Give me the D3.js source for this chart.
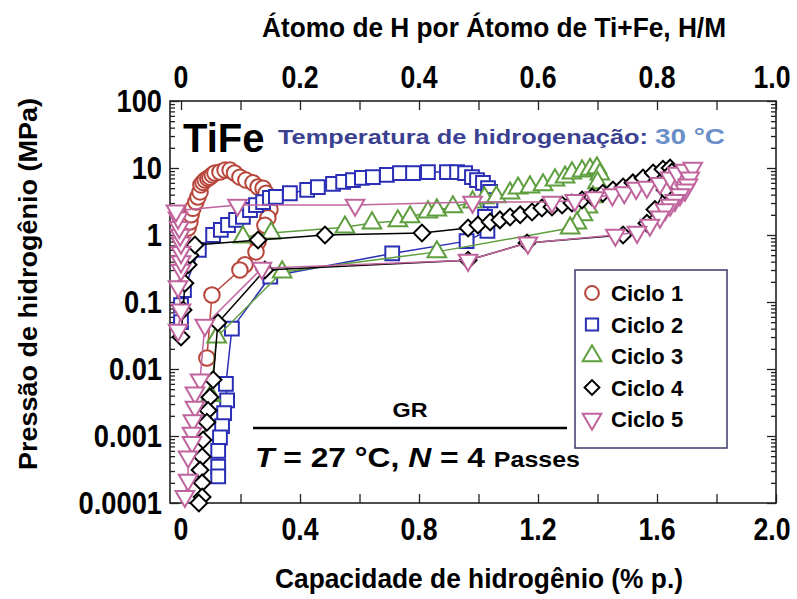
<!DOCTYPE html>
<html>
<head>
<meta charset="utf-8">
<script src="https://cdn.jsdelivr.net/npm/d3@7"></script>
<style>
body { margin: 0; background: #fff; }
svg { display: block; }
text { font-family: "Liberation Sans", Arial, sans-serif; font-weight: bold; }
</style>
</head>
<body>
<svg width="797" height="599"></svg>
<script>
// [capacidade % p., pressao MPa]
const ciclo1 = [[0.02,0.6],[0.024,1.27],[0.03,1.56],[0.034,2.0],[0.04,2.5],[0.05,3.1],[0.057,3.7],[0.064,4.4],[0.067,5.6],[0.074,6.1],[0.081,6.6],[0.09,7.0],[0.097,7.3],[0.105,7.9],[0.114,8.4],[0.131,8.7],[0.148,9.3],[0.165,9.3],[0.18,8.4],[0.198,7.3],[0.218,6.6],[0.242,6.0],[0.259,5.2],[0.276,5.0],[0.286,4.2],[0.292,3.1],[0.299,2.4],[0.292,1.8],[0.282,1.4],[0.259,0.79],[0.252,0.56],[0.215,0.36],[0.198,0.3],[0.104,0.127],[0.087,0.0146]];
const ciclo2 = [[0.0,0.05],[0.0,0.09],[0.01,0.15],[0.06,0.6],[0.108,1.0],[0.134,1.19],[0.158,1.41],[0.185,1.68],[0.208,1.86],[0.232,2.36],[0.252,2.8],[0.276,3.1],[0.299,3.57],[0.319,3.7],[0.366,4.2],[0.424,4.7],[0.46,5.2],[0.511,5.8],[0.545,6.2],[0.578,6.6],[0.608,7.1],[0.645,7.3],[0.692,7.9],[0.736,8.4],[0.78,8.4],[0.83,8.7],[0.894,8.7],[0.928,8.7],[0.955,8.4],[0.978,7.3],[0.995,6.6],[1.015,6.0],[1.032,5.0],[1.039,4.4],[1.04,3.3],[1.022,1.86],[1.03,1.15],[0.96,0.81],[0.71,0.53],[0.3,0.24],[0.171,0.04],[0.151,0.006],[0.155,0.0034],[0.145,0.0022],[0.138,0.0014],[0.131,0.00095],[0.125,0.0006],[0.125,0.00035],[0.125,0.00025]];
const ciclo3 = [[0.208,0.93],[0.303,1.07],[0.551,1.31],[0.642,1.51],[0.729,1.62],[0.77,1.86],[0.83,2.2],[0.86,2.36],[0.914,2.62],[0.98,3.1],[1.02,3.57],[1.06,3.7],[1.106,4.2],[1.133,5.0],[1.173,5.2],[1.217,5.6],[1.257,6.6],[1.291,7.3],[1.314,8.4],[1.348,9.0],[1.375,9.5],[1.398,10],[1.408,8.1],[1.40,6.0],[1.385,3.7],[1.368,2.6],[1.351,2.0],[1.331,1.51],[1.308,1.27],[0.86,0.56],[0.34,0.28],[0.12,0.03],[0.1,0.004]];
const ciclo4 = [[0.0,0.03],[0.007,0.076],[0.013,0.19],[0.024,0.36],[0.03,0.5],[0.047,0.71],[0.259,0.84],[0.484,1.0],[0.81,1.07],[0.965,1.27],[0.998,1.41],[1.039,1.56],[1.072,1.68],[1.106,1.86],[1.14,2.0],[1.18,2.2],[1.213,2.53],[1.247,2.62],[1.281,2.8],[1.314,3.0],[1.348,3.33],[1.382,3.7],[1.418,4.2],[1.452,4.7],[1.486,5.2],[1.519,6.0],[1.553,7.1],[1.587,8.4],[1.62,9.6],[1.644,10],[1.65,8.7],[1.627,4.7],[1.593,2.4],[1.566,1.5],[1.486,1.0],[1.163,0.76],[0.965,0.42],[0.282,0.3],[0.124,0.049],[0.108,0.0069],[0.097,0.0038],[0.091,0.0024],[0.087,0.0016],[0.074,0.00087],[0.071,0.00049],[0.064,0.00031],[0.071,0.0002],[0.071,0.000123],[0.06,0.0001]];
const ciclo5 = [[-0.01,0.038],[0.0,0.076],[-0.01,0.17],[0.0,0.3],[0.0,0.4],[0.0,0.55],[0.0,0.76],[-0.003,1.0],[-0.006,1.3],[-0.01,1.8],[-0.017,2.3],[0.19,2.8],[0.585,2.8],[0.98,3.1],[1.247,3.1],[1.324,3.3],[1.39,3.6],[1.45,4.0],[1.49,4.3],[1.53,5.0],[1.566,5.2],[1.61,5.9],[1.644,7.1],[1.667,8.4],[1.694,9.3],[1.72,10],[1.71,7.1],[1.704,5.6],[1.694,4.7],[1.677,4.0],[1.66,3.3],[1.644,2.8],[1.627,2.4],[1.61,1.86],[1.576,1.41],[1.533,1.1],[1.46,1.0],[1.166,0.76],[0.965,0.42],[0.272,0.32],[0.08,0.045],[0.064,0.0069],[0.047,0.0044],[0.047,0.0027],[0.04,0.0017],[0.037,0.0011],[0.037,0.0008],[0.024,0.00049],[0.024,0.00022],[0.013,0.000126]];

const cicloNomes = ['Ciclo 1', 'Ciclo 2', 'Ciclo 3', 'Ciclo 4', 'Ciclo 5'];
const cores = ['#b8453a', '#2b2fb5', '#5f9e3f', '#000000', '#c0649e'];
const xTickLabels = [0, 0.4, 0.8, 1.2, 1.6, 2.0];
const topTickLabels = [0, 0.2, 0.4, 0.6, 0.8, 1.0];
const yTickValues = [100, 10, 1, 0.1, 0.01, 0.001, 0.0001];

const margin = {top: 101, right: 21, bottom: 96, left: 170};
const width = 797 - margin.left - margin.right;
const height = 599 - margin.top - margin.bottom;

const svg = d3.select('svg');
const g = svg.append('g').attr('transform', `translate(${margin.left},${margin.top})`);

const x = d3.scaleLinear().domain([-0.037, 2.0]).range([0, width]);
const xTop = d3.scaleLinear().domain([-0.0185, 1.0]).range([0, width]);
const y = d3.scaleLog().domain([0.0001, 100]).range([height, 0]);

// squeeze text horizontally to mimic the condensed face
function squeeze(sel, f) {
  sel.each(function () {
    const len = this.getComputedTextLength();
    d3.select(this).attr('textLength', len * f).attr('lengthAdjust', 'spacingAndGlyphs');
  });
}

// ticks (inward)
const minors = [];
yTickValues.forEach(v => { if (v < 100) for (let k = 2; k <= 9; k++) minors.push(v * k); });

g.append('g').call(d3.axisBottom(x).tickValues(d3.range(0, 2.01, 0.2)).tickSize(-9).tickFormat(''))
  .attr('transform', `translate(0,${height})`);
g.append('g').call(d3.axisTop(xTop).tickValues(d3.range(0, 1.01, 0.1)).tickSize(-9).tickFormat(''));
g.append('g').call(d3.axisLeft(y).tickValues(yTickValues).tickSize(-9).tickFormat(''));
g.append('g').call(d3.axisLeft(y).tickValues(minors).tickSize(-5).tickFormat(''));
g.append('g').call(d3.axisRight(y).tickValues(yTickValues).tickSize(-9).tickFormat(''))
  .attr('transform', `translate(${width},0)`);
g.append('g').call(d3.axisRight(y).tickValues(minors).tickSize(-5).tickFormat(''))
  .attr('transform', `translate(${width},0)`);
g.selectAll('.domain').remove();
g.selectAll('.tick line').attr('stroke', '#222').attr('stroke-width', 1.3);

g.append('rect').attr('width', width).attr('height', height)
  .attr('fill', 'none').attr('stroke', '#222').attr('stroke-width', 1.6);

// tick labels (the last one is pulled in a bit so it stays on the page)
const labX = (scale, d, last) => scale(d) - (d === last ? 4 : 0);
g.selectAll('.xlab').data(xTickLabels).join('text')
  .attr('x', d => labX(x, d, 2.0)).attr('y', height + 37)
  .attr('text-anchor', 'middle').attr('font-size', 31)
  .text(d => d === 0 ? '0' : d.toFixed(1))
  .call(squeeze, 0.86);
g.selectAll('.toplab').data(topTickLabels).join('text')
  .attr('x', d => labX(xTop, d, 1.0)).attr('y', -13)
  .attr('text-anchor', 'middle').attr('font-size', 31)
  .text(d => d === 0 ? '0' : d.toFixed(1))
  .call(squeeze, 0.86);
g.selectAll('.ylab').data(yTickValues).join('text')
  .attr('x', -8).attr('y', d => y(d) + 11)
  .attr('text-anchor', 'end').attr('font-size', 31)
  .text(d => d >= 1 ? String(d) : d.toFixed(Math.round(-Math.log10(d))))
  .call(squeeze, 0.88);

// axis titles
svg.append('text').attr('x', 494).attr('y', 37)
  .attr('text-anchor', 'middle').attr('font-size', 27)
  .attr('textLength', 464).attr('lengthAdjust', 'spacingAndGlyphs')
  .text('Átomo de H por Átomo de Ti+Fe, H/M');
svg.append('text').attr('x', 479).attr('y', 588)
  .attr('text-anchor', 'middle').attr('font-size', 27)
  .attr('textLength', 408).attr('lengthAdjust', 'spacingAndGlyphs')
  .text('Capacidade de hidrogênio (% p.)');
svg.append('text')
  .attr('transform', 'translate(37,284) rotate(-90)')
  .attr('text-anchor', 'middle').attr('font-size', 26)
  .attr('textLength', 372).attr('lengthAdjust', 'spacingAndGlyphs')
  .text('Pressão de hidrogênio (MPa)');

// curves
const linha = d3.line().x(d => x(d[0])).y(d => y(d[1]));
const simbolos = [
  d3.symbol().type(d3.symbolCircle).size(190),
  d3.symbol().type(d3.symbolSquare).size(190),
  d3.symbol().type(d3.symbolTriangle).size(150),
  d3.symbol().type(d3.symbolSquare).size(140),
  d3.symbol().type(d3.symbolTriangle).size(150)
];
const rotacao = [0, 0, 0, 45, 180];
const ciclos = [ciclo1, ciclo2, ciclo3, ciclo4, ciclo5];

ciclos.forEach((serie, i) => {
  g.append('path').attr('d', linha(serie))
    .attr('fill', 'none').attr('stroke', cores[i]).attr('stroke-width', 1.5);
  g.selectAll('.m' + i).data(serie).join('path')
    .attr('d', simbolos[i])
    .attr('transform', d => `translate(${x(d[0])},${y(d[1])}) rotate(${rotacao[i]})`)
    .attr('fill', '#fff').attr('stroke', cores[i]).attr('stroke-width', 2);
});

// annotations
svg.append('text').attr('x', 183).attr('y', 152).attr('font-size', 40).text('TiFe');
const temp = svg.append('text').attr('x', 278).attr('y', 144).attr('font-size', 20)
  .attr('textLength', 447).attr('lengthAdjust', 'spacingAndGlyphs');
temp.append('tspan').attr('fill', '#3a4190').text('Temperatura de hidrogenação: ');
temp.append('tspan').attr('fill', '#6a8ec8').attr('font-size', 22).text('30 °C');

svg.append('text').attr('x', 410).attr('y', 417).attr('text-anchor', 'middle').attr('font-size', 20)
  .attr('textLength', 35).attr('lengthAdjust', 'spacingAndGlyphs').text('GR');
svg.append('line').attr('x1', 253).attr('x2', 567).attr('y1', 428).attr('y2', 428)
  .attr('stroke', '#000').attr('stroke-width', 2.5);
const eq = svg.append('text').attr('x', 255).attr('y', 467).attr('font-size', 28)
  .attr('textLength', 325).attr('lengthAdjust', 'spacingAndGlyphs');
eq.append('tspan').attr('font-style', 'italic').text('T');
eq.append('tspan').text(' =  27 °C, ');
eq.append('tspan').attr('font-style', 'italic').text('N');
eq.append('tspan').text(' = 4 ');
eq.append('tspan').attr('font-size', 22).text('Passes');

// legend
const leg = svg.append('g').attr('transform', 'translate(575,270)');
leg.append('rect').attr('width', 152).attr('height', 178)
  .attr('fill', '#fff').attr('stroke', '#3a3a6a').attr('stroke-width', 1.5);
cicloNomes.forEach((nome, i) => {
  const row = leg.append('g').attr('transform', `translate(0,${23 + i * 31.5})`);
  row.append('path').attr('d', d3.symbol().type(i === 0 ? d3.symbolCircle : i === 1 || i === 3 ? d3.symbolSquare : d3.symbolTriangle).size(i === 3 ? 110 : 150))
    .attr('transform', `translate(17,0) rotate(${rotacao[i]})`)
    .attr('fill', '#fff').attr('stroke', cores[i]).attr('stroke-width', 2);
  row.append('text').attr('x', 36).attr('y', 8).attr('font-size', 22).text(nome);
});
</script>
</body>
</html>
